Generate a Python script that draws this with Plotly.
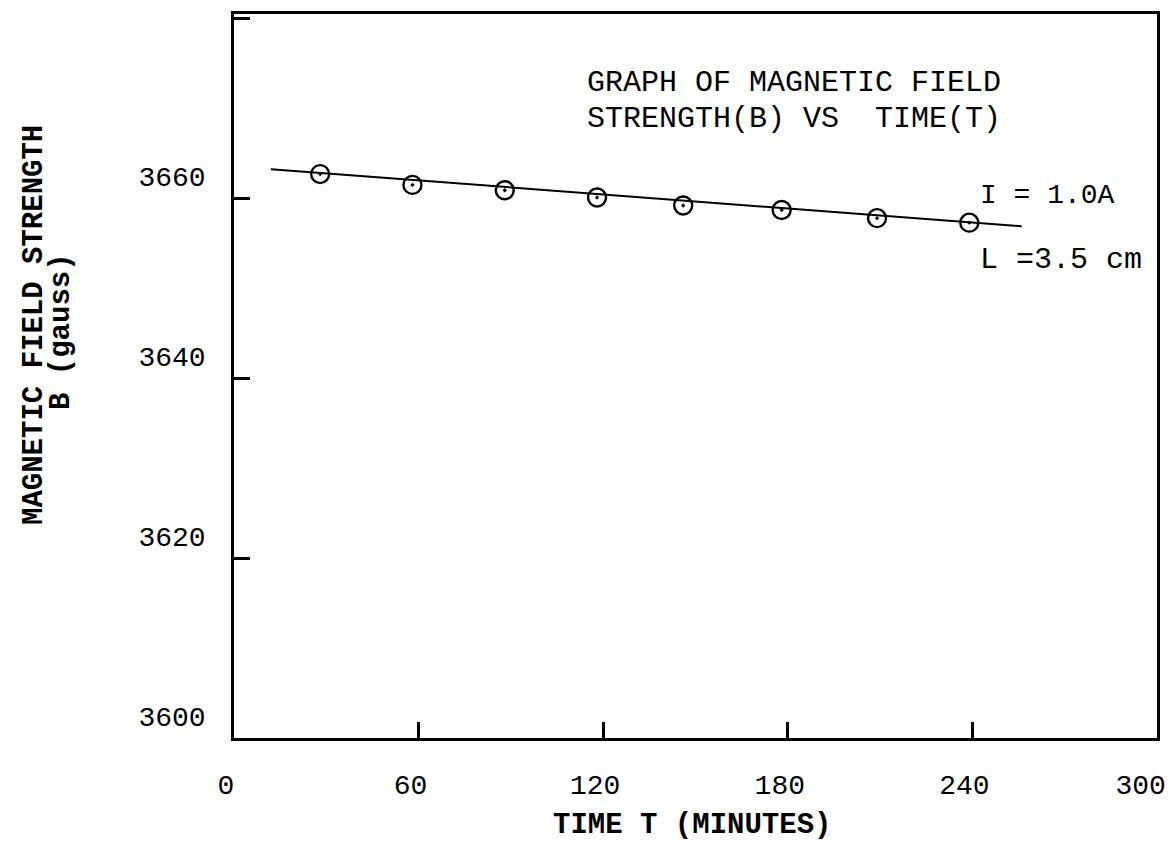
import plotly.graph_objects as go

# Data
time_min = [28, 58, 88, 118, 146, 178, 209, 239]
field_gauss = [3662.7, 3661.5, 3660.9, 3660.1, 3659.2, 3658.7, 3657.8, 3657.3]
fit_time = [12, 256]
fit_field = [3663.25, 3656.9]
x_ticks = [0, 60, 120, 180, 240, 300]
x_tick_labels = ["0", "60", "120", "180", "240", "300\u00a0"]
y_ticks = [3600, 3620, 3640, 3660, 3680]
y_tick_labels = ["3600", "3620", "3640", "3660", "3680"]

FONT = "Liberation Mono, DejaVu Sans Mono, monospace"

OFF = 8  # browser body margin
W, H = 1174 - OFF, 843 - OFF
# plot area in viewport pixels: x 234..1157, y 14..738
L, R, T, B = 234 - OFF, 1174 - 1157, 14 - OFF, 843 - 738
pw, ph = W - L - R, H - T - B

def px(xp):
    return (xp - OFF - L) / pw

def py(yp):
    return (H - B - (yp - OFF)) / ph

fig = go.Figure()
fig.add_trace(go.Scatter(x=fit_time, y=fit_field, mode="lines",
                         line=dict(color="black", width=2), showlegend=False))
fig.add_trace(go.Scatter(x=time_min, y=field_gauss, mode="markers",
                         marker=dict(symbol="circle-open-dot", size=18, color="black",
                                     line=dict(color="black", width=2.4)),
                         showlegend=False))

axis_common = dict(showline=True, mirror=True, linecolor="black", linewidth=2.5,
                   ticks="inside", tickcolor="black", tickwidth=2.5, ticklen=16,
                   showgrid=False, zeroline=False, ticklabeloverflow="allow",
                   tickfont=dict(family=FONT, size=28, color="black"))

fig.update_xaxes(range=[0, 300], tickvals=x_ticks, ticktext=x_tick_labels,
                 ticklabelstandoff=20, ticklabelshift=-8, **axis_common)
fig.update_yaxes(range=[3600, 3680.5], tickvals=y_ticks, ticktext=y_tick_labels,
                 ticklabelshift=-22, ticklabelstandoff=20, **axis_common)

ann_font = dict(family=FONT, size=30, color="black")
bold_font = dict(family=FONT, size=29, color="black", weight="bold")
annotations = [
    dict(text="GRAPH OF MAGNETIC FIELD", x=px(585), y=py(83), xanchor="left", yanchor="middle"),
    dict(text="STRENGTH(B) VS  TIME(T)", x=px(585), y=py(119), xanchor="left", yanchor="middle"),
    dict(text="I = 1.0A", x=px(978), y=py(195), xanchor="left", yanchor="middle",
         font=dict(family=FONT, size=28, color="black")),
    dict(text="L =3.5 cm", x=px(978), y=py(260), xanchor="left", yanchor="middle"),
    dict(text="TIME T (MINUTES)", x=px(692), y=py(826), xanchor="center", yanchor="middle",
         font=bold_font),
    dict(text="MAGNETIC FIELD STRENGTH", x=px(34), y=py(325), xanchor="center", yanchor="middle",
         textangle=-90, font=bold_font),
    dict(text="B (gauss)", x=px(61), y=py(332), xanchor="center", yanchor="middle",
         textangle=-90, font=bold_font),
]
for a in annotations:
    a.setdefault("font", ann_font)
    a.update(xref="paper", yref="paper", showarrow=False)

fig.update_layout(width=W, height=H, margin=dict(l=L, r=R, t=T, b=B, autoexpand=False),
                  paper_bgcolor="white", plot_bgcolor="white",
                  annotations=annotations)

fig.write_html("out.html")
